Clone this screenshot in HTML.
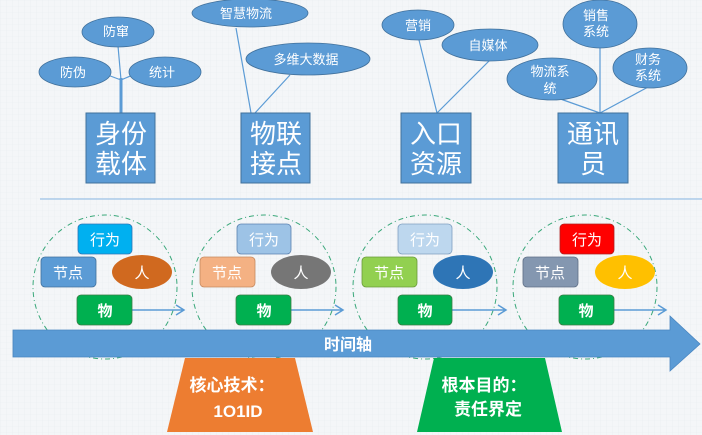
<!DOCTYPE html>
<html><head><meta charset="utf-8"><style>
html,body{margin:0;padding:0;background:#f3f5f7;}
svg{display:block;}
text{font-family:"Liberation Sans","Noto Sans CJK SC",sans-serif;}
</style></head><body>
<svg width="702" height="435" viewBox="0 0 702 435" xmlns="http://www.w3.org/2000/svg">
<defs>
<pattern id="g" width="6" height="6" patternUnits="userSpaceOnUse"><path d="M6 0H0V6" fill="none" stroke="#e8ecef" stroke-width="0.6"/></pattern>
</defs>
<rect width="702" height="435" fill="#f4f6f8"/>
<rect width="702" height="435" fill="url(#g)"/>

<!-- connector lines -->
<g stroke="#5b9bd5" stroke-width="1.2" fill="none">
<line x1="121" y1="80" x2="118" y2="46"/>
<line x1="121" y1="80" x2="105" y2="74"/>
<line x1="121" y1="80" x2="135" y2="74"/>
<line x1="251" y1="113" x2="236" y2="28"/>
<line x1="255" y1="113" x2="290" y2="75"/>
<line x1="437" y1="113" x2="419" y2="40"/>
<line x1="437" y1="113" x2="490" y2="60"/>
<line x1="600" y1="113" x2="600" y2="46"/>
<line x1="600" y1="113" x2="552" y2="96"/>
<line x1="600" y1="113" x2="650" y2="86"/>
</g>
<line x1="121" y1="113" x2="121" y2="78" stroke="#5b9bd5" stroke-width="3"/>

<!-- clouds -->
<g fill="#5b9bd5" stroke="#41719c" stroke-width="0.8">
<ellipse cx="118" cy="32" rx="36" ry="15"/>
<ellipse cx="75" cy="72" rx="36" ry="15"/>
<ellipse cx="165" cy="72" rx="36" ry="15"/>
<ellipse cx="250" cy="13" rx="58" ry="14"/>
<ellipse cx="308" cy="59" rx="62" ry="16"/>
<ellipse cx="418" cy="25" rx="36" ry="15"/>
<ellipse cx="490" cy="45" rx="48" ry="16"/>
<ellipse cx="600" cy="24" rx="37" ry="24"/>
<ellipse cx="552" cy="79" rx="45" ry="21"/>
<ellipse cx="650" cy="68" rx="37" ry="20"/>
</g>
<g fill="#fff" font-size="13" text-anchor="middle">
<text x="116" y="36">防窜</text>
<text x="73" y="77">防伪</text>
<text x="162" y="77">统计</text>
<text x="246" y="18">智慧物流</text>
<text x="306" y="64">多维大数据</text>
<text x="418" y="30">营销</text>
<text x="488" y="50">自媒体</text>
<text x="596" y="20">销售</text>
<text x="596" y="36">系统</text>
<text x="550" y="76">物流系</text>
<text x="550" y="93">统</text>
<text x="648" y="64">财务</text>
<text x="648" y="80">系统</text>
</g>

<!-- top boxes -->
<g fill="#5b9bd5" stroke="#41719c" stroke-width="1">
<rect x="86" y="113" width="69" height="70"/>
<rect x="241" y="113" width="69" height="70"/>
<rect x="401" y="113" width="70" height="70"/>
<rect x="558" y="113" width="70" height="70"/>
</g>
<g fill="#fff" font-size="26" text-anchor="middle">
<text x="121" y="143">身份</text><text x="121" y="173">载体</text>
<text x="276" y="143">物联</text><text x="276" y="173">接点</text>
<text x="436" y="143">入口</text><text x="436" y="173">资源</text>
<text x="593" y="143">通讯</text><text x="593" y="173">员</text>
</g>

<line x1="40" y1="199" x2="702" y2="199" stroke="#9dc3e6" stroke-width="1.2"/>

<!-- dashed circles -->
<g fill="none" stroke="#3aa87a" stroke-width="1" stroke-dasharray="5,3,1,3">
<circle cx="105" cy="287" r="72"/>
<circle cx="264" cy="287" r="72"/>
<circle cx="425" cy="287" r="72"/>
<circle cx="585" cy="287" r="72"/>
</g>

<!-- groups -->
<g stroke="#5b9bd5" stroke-width="1.5" fill="none">
<path d="M132 310H183M176 305L184 310L176 315"/>
<path d="M291 310H342M335 305L343 310L335 315"/>
<path d="M452 310H505M498 305L506 310L498 315"/>
<path d="M614 310H665M658 305L666 310L658 315"/>
</g>
<g stroke-width="0.8">
<rect x="78" y="224" width="54" height="30" rx="4" fill="#00b0f0" stroke="#2e75b6"/>
<rect x="41" y="257" width="55" height="30" rx="4" fill="#5b9bd5" stroke="#41719c"/>
<ellipse cx="142" cy="272" rx="30" ry="17" fill="#d0691f"/>
<rect x="77" y="295" width="55" height="30" rx="4" fill="#00b050" stroke="#3a7d44"/>

<rect x="237" y="224" width="54" height="30" rx="4" fill="#9dc3e6" stroke="#5b82b0"/>
<rect x="200" y="257" width="55" height="30" rx="4" fill="#f4b183" stroke="#c58a60"/>
<ellipse cx="301" cy="272" rx="30" ry="17" fill="#767676"/>
<rect x="236" y="295" width="55" height="30" rx="4" fill="#00b050" stroke="#3a7d44"/>

<rect x="398" y="224" width="54" height="30" rx="4" fill="#bdd7ee" stroke="#7f9fc0"/>
<rect x="362" y="257" width="55" height="30" rx="4" fill="#92d050" stroke="#6a9a3a"/>
<ellipse cx="463" cy="272" rx="30" ry="17" fill="#2e75b6"/>
<rect x="398" y="295" width="54" height="30" rx="4" fill="#00b050" stroke="#3a7d44"/>

<rect x="560" y="224" width="54" height="30" rx="4" fill="#ff0000" stroke="#b02020"/>
<rect x="523" y="257" width="55" height="30" rx="4" fill="#8497b0" stroke="#5f6f86"/>
<ellipse cx="625" cy="272" rx="30" ry="17" fill="#ffc000"/>
<rect x="559" y="295" width="55" height="30" rx="4" fill="#00b050" stroke="#3a7d44"/>
</g>
<g fill="#fff" font-size="15" text-anchor="middle">
<text x="105" y="245">行为</text><text x="68" y="278">节点</text><text x="142" y="278">人</text><text x="105" y="316" font-weight="bold">物</text>
<text x="264" y="245">行为</text><text x="227" y="278">节点</text><text x="301" y="278">人</text><text x="264" y="316" font-weight="bold">物</text>
<text x="425" y="245">行为</text><text x="389" y="278">节点</text><text x="463" y="278">人</text><text x="425" y="316" font-weight="bold">物</text>
<text x="587" y="245">行为</text><text x="550" y="278">节点</text><text x="625" y="278">人</text><text x="586" y="316" font-weight="bold">物</text>
</g>

<!-- timeline -->
<path d="M13 330H670V316L700 344L670 371V357H13Z" fill="#5b9bd5" stroke="#4a86c0" stroke-width="0.8"/>
<text x="348" y="350" fill="#fff" font-size="16" font-weight="bold" text-anchor="middle">时间轴</text>

<!-- trapezoids -->
<path d="M185 358H295L313 432H167Z" fill="#ed7d31"/>
<path d="M434 358H545L562 432H417Z" fill="#00b050"/>
<g fill="#fff" font-size="17" font-weight="bold" text-anchor="middle">
<text x="232" y="391">核心技术：</text>
<text x="238" y="417">1O1ID</text>
<text x="484" y="391">根本目的：</text>
<text x="488" y="415">责任界定</text>
</g>
</svg>
</body></html>
